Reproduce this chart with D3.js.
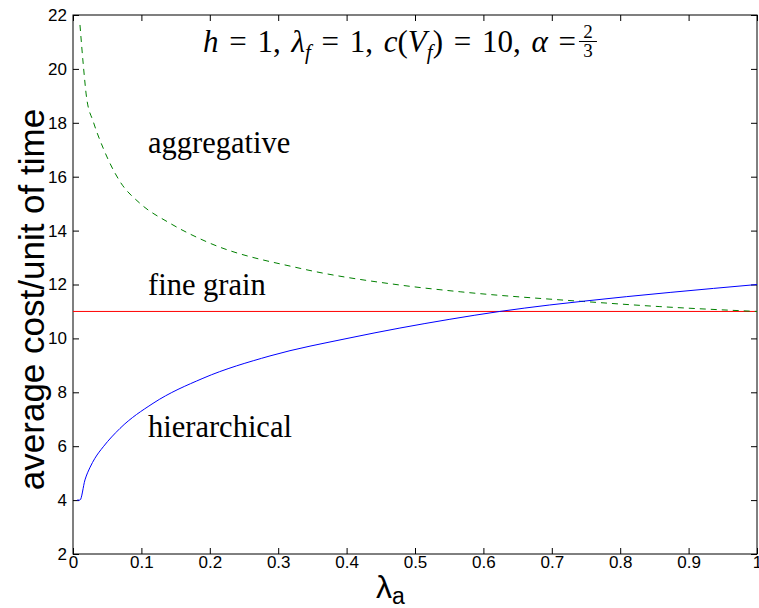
<!DOCTYPE html>
<html>
<head>
<meta charset="utf-8">
<script src="https://cdn.jsdelivr.net/npm/d3@7"></script>
<style>
  body { margin: 0; background: #fff; }
  svg { display: block; }
</style>
</head>
<body>
<div id="chart"></div>
<script>
var xTicks = [0, 0.1, 0.2, 0.3, 0.4, 0.5, 0.6, 0.7, 0.8, 0.9, 1];
var yTicks = [2, 4, 6, 8, 10, 12, 14, 16, 18, 20, 22];

// aggregative (green dashed)
var aggX = [0.0102, 0.0151, 0.020, 0.0297, 0.0443, 0.0687, 0.098, 0.142, 0.195, 0.332, 0.478, 0.566, 0.712, 0.746, 0.858, 1.0];
var aggY = [21.63, 20.14, 18.91, 18.04, 17.05, 15.82, 15.01, 14.27, 13.59, 12.6, 11.98, 11.73, 11.43, 11.37, 11.18, 11.0];

// hierarchical (blue)
var hierX = [0.006, 0.0102, 0.0175, 0.025, 0.032, 0.0443, 0.0687, 0.117, 0.19, 0.288, 0.405, 0.551, 0.624, 0.697, 0.746, 1.0];
var hierY = [4.0, 4.0, 4.75, 5.22, 5.55, 5.98, 6.66, 7.59, 8.52, 9.35, 10.02, 10.71, 11.0, 11.24, 11.38, 12.0];

// fine grain (red)
var fineX = [0, 1];
var fineY = [11, 11];

var margin = {top: 15, right: 2, bottom: 54, left: 73};
var width = 759 - margin.left - margin.right;
var height = 608 - margin.top - margin.bottom;

var svg = d3.select('#chart').append('svg')
  .attr('width', 759)
  .attr('height', 608)
  .style('background-color', '#fff');

var g = svg.append('g')
  .attr('transform', 'translate(' + margin.left + ',' + margin.top + ')');

var x = d3.scaleLinear().domain([0, 1]).range([0, width]);
var y = d3.scaleLinear().domain([2, 22]).range([height, 0]);

var fmtX = function(d) { return d === 0 ? '0' : d === 1 ? '1' : d3.format('.1f')(d); };

// axes, ticks pointing inward on all four sides
g.append('g')
  .attr('transform', 'translate(0,' + height + ')')
  .call(d3.axisBottom(x).tickValues(xTicks).tickFormat(fmtX).tickSizeInner(-6).tickSizeOuter(0).tickPadding(2));
g.append('g')
  .call(d3.axisTop(x).tickValues(xTicks).tickFormat('').tickSizeInner(-6).tickSizeOuter(0));
g.append('g')
  .call(d3.axisLeft(y).tickValues(yTicks).tickSizeInner(-6).tickSizeOuter(0).tickPadding(6));
g.append('g')
  .attr('transform', 'translate(' + width + ',0)')
  .call(d3.axisRight(y).tickValues(yTicks).tickFormat('').tickSizeInner(-6).tickSizeOuter(0));

g.selectAll('.domain').remove();
g.selectAll('.tick line').attr('stroke', '#000');
g.selectAll('.tick text')
  .attr('font-family', 'Liberation Sans, Arial, sans-serif')
  .attr('font-size', '17px')
  .attr('fill', '#000');

g.append('rect')
  .attr('width', width)
  .attr('height', height)
  .attr('fill', 'none')
  .attr('stroke', '#000')
  .attr('stroke-width', 1);

var line = d3.line()
  .x(function(d) { return x(d[0]); })
  .y(function(d) { return y(d[1]); })
  .curve(d3.curveMonotoneX);

g.append('path')
  .datum(d3.zip(fineX, fineY))
  .attr('d', line)
  .attr('fill', 'none')
  .attr('stroke', '#ff0000')
  .attr('stroke-width', 1);

g.append('path')
  .datum(d3.zip(aggX, aggY))
  .attr('d', line)
  .attr('fill', 'none')
  .attr('stroke', '#008000')
  .attr('stroke-width', 1)
  .attr('stroke-dasharray', '6,5');

g.append('path')
  .datum(d3.zip(hierX, hierY))
  .attr('d', line)
  .attr('fill', 'none')
  .attr('stroke', '#0000ff')
  .attr('stroke-width', 1);

// region labels
var labels = [
  {text: 'aggregative', x: 148, y: 153},
  {text: 'fine grain', x: 148, y: 295},
  {text: 'hierarchical', x: 148, y: 437}
];
svg.selectAll('.region')
  .data(labels)
  .enter().append('text')
    .attr('class', 'region')
    .attr('x', function(d) { return d.x; })
    .attr('y', function(d) { return d.y; })
    .attr('font-family', 'Liberation Serif, Times New Roman, serif')
    .attr('font-size', '30.5px')
    .attr('fill', '#000')
    .text(function(d) { return d.text; });

// title
var title = svg.append('text')
  .attr('x', 203)
  .attr('y', 52)
  .attr('font-family', 'Liberation Serif, Times New Roman, serif')
  .attr('font-size', '31px')
  .attr('word-spacing', '3px')
  .attr('fill', '#000');
var parts = [
  ['h', 'i', 0], [' = 1, ', 'n', 0], ['λ', 'i', 0], ['f', 's', 7], [' = 1, ', 'n', -7],
  ['c', 'i', 0], ['(', 'n', 0], ['V', 'i', 0], ['f', 's', 7], [')', 'n', -7], [' = 10, ', 'n', 0],
  ['α', 'i', 0], [' = ', 'n', 0]
];
parts.forEach(function(p) {
  var t = title.append('tspan').text(p[0]).attr('dy', p[2]);
  if (p[1] === 'i' || p[1] === 's') t.attr('font-style', 'italic');
  if (p[1] === 's') t.attr('font-size', '21px');
});
var tEnd = title.node().getBBox().x + title.node().getBBox().width;
var fx = tEnd + 12;
svg.append('text').attr('x', fx).attr('y', 38).attr('text-anchor', 'middle')
  .attr('font-family', 'Liberation Serif, serif').attr('font-size', '19px').text('2');
svg.append('line').attr('x1', fx - 9).attr('x2', fx + 9).attr('y1', 41.5).attr('y2', 41.5)
  .attr('stroke', '#000').attr('stroke-width', 1);
svg.append('text').attr('x', fx).attr('y', 57).attr('text-anchor', 'middle')
  .attr('font-family', 'Liberation Serif, serif').attr('font-size', '19px').text('3');

// axis labels
svg.append('text')
  .attr('transform', 'translate(44,' + (margin.top + height / 2 + 15) + ') rotate(-90)')
  .attr('text-anchor', 'middle')
  .attr('font-family', 'Liberation Sans, Arial, sans-serif')
  .attr('font-size', '35px')
  .attr('fill', '#000')
  .text('average cost/unit of time');

var xl = svg.append('text')
  .attr('x', 376)
  .attr('y', 598)
  .attr('font-family', 'Liberation Sans, Arial, sans-serif')
  .attr('font-size', '32px')
  .attr('fill', '#000');
xl.append('tspan').text('λ');
xl.append('tspan').text('a').attr('font-size', '23px').attr('dy', 6);
</script>
</body>
</html>
